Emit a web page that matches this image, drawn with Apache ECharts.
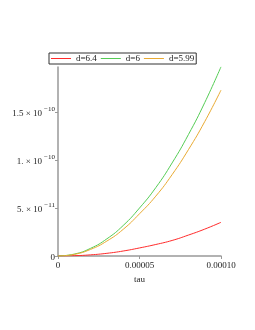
<!DOCTYPE html>
<html>
<head>
<meta charset="utf-8">
<script src="https://cdn.jsdelivr.net/npm/echarts@6/dist/echarts.min.js"></script>
<style>html,body{margin:0;padding:0;background:#fff}#c{width:255px;height:330px}</style>
</head>
<body>
<div id="c"></div>
<script>
var tau = [0, 0.00001, 0.00002, 0.00003, 0.00004, 0.00005, 0.00006, 0.00007, 0.00008, 0.00009, 0.0001];
var seriesNames = ['d=6.4', 'd=6', 'd=5.99'];
var d64 = [0, 0.03e-11, 0.12e-11, 0.28e-11, 0.52e-11, 0.84e-11, 1.20e-11, 1.62e-11, 2.18e-11, 2.80e-11, 3.51e-11];
var d6 = [0, 0.20e-11, 0.80e-11, 1.79e-11, 3.18e-11, 5.00e-11, 7.13e-11, 9.70e-11, 12.65e-11, 15.98e-11, 19.72e-11];
var d599 = [0, 0.17e-11, 0.69e-11, 1.56e-11, 2.78e-11, 4.40e-11, 6.24e-11, 8.48e-11, 11.08e-11, 14.00e-11, 17.29e-11];
var xTicks = {0: '0', 5: '0.00005', 10: '0.00010'};
var yTicks = [['0', ''], ['5. \u00d7 10', '\u221211'], ['1. \u00d7 10', '\u221210'], ['1.5 \u00d7 10', '\u221210']];
var colors = ['#ff2b2b', '#55cc55', '#e8aa33'];
var font = 'Liberation Serif';

function pairs(ys) { return tau.map(function (t, i) { return [t, ys[i]]; }); }

var chart = echarts.init(document.getElementById('c'));
chart.setOption({
  animation: false,
  color: colors,
  textStyle: { fontFamily: font },
  legend: {
    left: 49, top: 53,
    data: seriesNames,
    icon: 'rect',
    itemWidth: 20, itemHeight: 1,
    itemGap: 4,
    padding: [1, 2, 1, 2],
    borderColor: '#333', borderWidth: 1,
    textStyle: { fontFamily: font, fontSize: 9, color: '#222' }
  },
  grid: { left: 58, right: 34, top: 67, bottom: 74 },
  xAxis: {
    type: 'value', min: 0, max: 0.0001, interval: 0.00005,
    name: 'tau', nameLocation: 'middle', nameGap: 17,
    nameTextStyle: { fontFamily: font, fontSize: 9, color: '#222' },
    axisLine: { lineStyle: { color: '#999', width: 1.5 } },
    axisTick: { length: 3, lineStyle: { color: '#999' } },
    splitLine: { show: false },
    axisLabel: {
      margin: 5, fontFamily: font, fontSize: 9, color: '#222',
      formatter: function (v) { var k = Math.round(v / 0.00001); return xTicks[k] !== undefined ? xTicks[k] : ''; }
    }
  },
  yAxis: {
    type: 'value', min: 0, max: 1.97e-10, interval: 5e-11,
    axisLine: { show: true, lineStyle: { color: '#999', width: 1.5 } },
    axisTick: { show: true, length: 3, lineStyle: { color: '#999' } },
    splitLine: { show: false },
    axisLabel: {
      margin: 3, showMaxLabel: false, color: '#222',
      formatter: function (v) {
        var k = Math.round(v / 5e-11);
        if (Math.abs(v - k * 5e-11) > 1e-13 || !yTicks[k]) return '';
        var t = yTicks[k];
        return t[1] ? '{a|' + t[0] + '}{b|' + t[1] + '}' : '{a|' + t[0] + '}';
      },
      rich: {
        a: { fontFamily: font, fontSize: 9, color: '#222', lineHeight: 12, verticalAlign: 'bottom' },
        b: { fontFamily: font, fontSize: 7, color: '#222', lineHeight: 12, verticalAlign: 'top', padding: [0, 0, 0, 2] }
      }
    }
  },
  series: [
    { name: seriesNames[0], type: 'line', data: pairs(d64), smooth: true, showSymbol: false, lineStyle: { width: 1 } },
    { name: seriesNames[1], type: 'line', data: pairs(d6), smooth: true, showSymbol: false, lineStyle: { width: 1 } },
    { name: seriesNames[2], type: 'line', data: pairs(d599), smooth: true, showSymbol: false, lineStyle: { width: 1 } }
  ]
});
</script>
</body>
</html>
